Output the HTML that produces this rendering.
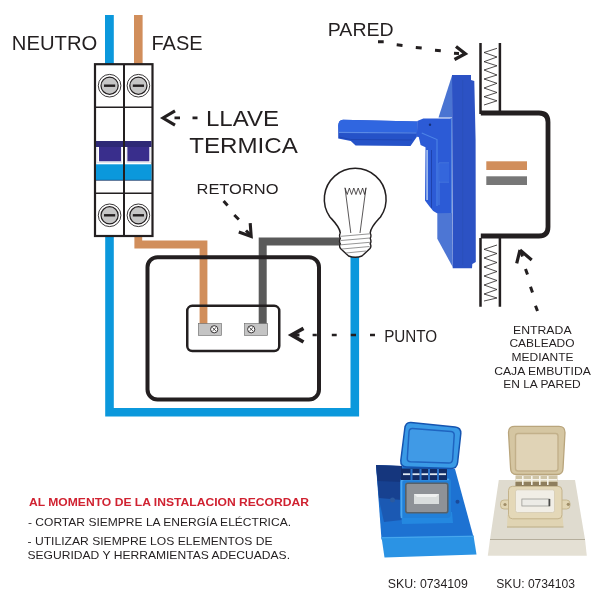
<!DOCTYPE html>
<html><head><meta charset="utf-8">
<style>
html,body{margin:0;padding:0;background:#fff;width:600px;height:600px;overflow:hidden}
svg{display:block;will-change:transform}
text{font-family:"Liberation Sans",sans-serif;fill:#231f20}
</style></head>
<body>
<svg width="600" height="600" viewBox="0 0 600 600">
<defs>


</defs>
<rect width="600" height="600" fill="#fff"/>

<!-- ===== labels ===== -->
<text x="11.8" y="49.5" font-size="20.3" textLength="85.5" lengthAdjust="spacingAndGlyphs">NEUTRO</text>
<text x="151.5" y="49.5" font-size="20">FASE</text>
<text x="327.8" y="35.7" font-size="18.6" textLength="65.8" lengthAdjust="spacingAndGlyphs">PARED</text>

<!-- ===== wires top ===== -->
<rect x="105" y="15" width="8.8" height="49" fill="#0b98dc"/>
<rect x="134" y="15" width="8.6" height="49" fill="#d18e5b"/>

<!-- ===== bottom wires ===== -->
<path d="M109.5 236 V412.2 H354.8 V256" fill="none" stroke="#0b98dc" stroke-width="8.6" stroke-linejoin="miter"/>
<path d="M138.3 236 V244.5 H203.5 V324" fill="none" stroke="#d18e5b" stroke-width="7.8"/>
<path d="M262.7 324 V241.5 H341" fill="none" stroke="#5a5a5a" stroke-width="8"/>

<!-- ===== breaker ===== -->
<g>
<rect x="95" y="64.2" width="57.5" height="171.8" fill="#fff" stroke="#231f20" stroke-width="2.2"/>
<rect x="96" y="141" width="55.5" height="6" fill="#2e2976"/>
<rect x="99" y="147" width="22" height="14.3" fill="#392e8c"/>
<rect x="127.3" y="147" width="22" height="14.3" fill="#392e8c"/>
<rect x="96" y="164.3" width="55.5" height="15.8" fill="#0b98dc"/>
<line x1="96" y1="180.3" x2="151.5" y2="180.3" stroke="#1b3a6a" stroke-width="0.8"/>
<g fill="none" stroke="#c8c8d6" stroke-width="0.5">
<path d="M97 147.5 V162.5 H121.5 V147.5 M126.8 147.5 V162.5 H151 V147.5"/>
</g>
<line x1="95" y1="107.2" x2="152.5" y2="107.2" stroke="#231f20" stroke-width="1.6"/>
<line x1="95" y1="193.2" x2="152.5" y2="193.2" stroke="#231f20" stroke-width="1.6"/>
<line x1="124" y1="64.2" x2="124" y2="236" stroke="#231f20" stroke-width="2"/>
<g transform="translate(109.6 85.7)">
<circle cx="0" cy="0" r="11.3" fill="#fff" stroke="#231f20" stroke-width="0.9"/>
<circle cx="0" cy="0" r="8.6" fill="#c6c6c6" stroke="#231f20" stroke-width="1.2"/>
<rect x="-5.6" y="-1.2" width="11.2" height="2.4" fill="#231f20"/>
</g>
<g transform="translate(138.4 85.7)">
<circle cx="0" cy="0" r="11.3" fill="#fff" stroke="#231f20" stroke-width="0.9"/>
<circle cx="0" cy="0" r="8.6" fill="#c6c6c6" stroke="#231f20" stroke-width="1.2"/>
<rect x="-5.6" y="-1.2" width="11.2" height="2.4" fill="#231f20"/>
</g>
<g transform="translate(109.6 215.3)">
<circle cx="0" cy="0" r="11.3" fill="#fff" stroke="#231f20" stroke-width="0.9"/>
<circle cx="0" cy="0" r="8.6" fill="#c6c6c6" stroke="#231f20" stroke-width="1.2"/>
<rect x="-5.6" y="-1.2" width="11.2" height="2.4" fill="#231f20"/>
</g>
<g transform="translate(138.4 215.3)">
<circle cx="0" cy="0" r="11.3" fill="#fff" stroke="#231f20" stroke-width="0.9"/>
<circle cx="0" cy="0" r="8.6" fill="#c6c6c6" stroke="#231f20" stroke-width="1.2"/>
<rect x="-5.6" y="-1.2" width="11.2" height="2.4" fill="#231f20"/>
</g>
</g>

<!-- ===== switch plate ===== -->
<rect x="147.5" y="257.2" width="171.5" height="142.3" rx="10" fill="none" stroke="#231f20" stroke-width="4"/>
<rect x="187.25" y="305.8" width="92" height="45.3" rx="5" fill="none" stroke="#231f20" stroke-width="2.5"/>
<rect x="198.3" y="323.5" width="23.3" height="12" fill="#c4c4c4" stroke="#6a6a6a" stroke-width="0.6"/>
<rect x="244.4" y="323.5" width="23.3" height="12" fill="#c4c4c4" stroke="#6a6a6a" stroke-width="0.6"/>
<g fill="#fff" stroke="#231f20" stroke-width="0.9">
<circle cx="214.2" cy="329.3" r="3.6"/>
<circle cx="251.2" cy="329.3" r="3.6"/>
</g>
<g stroke="#231f20" stroke-width="0.8">
<path d="M212.4 327.5 L216 331.1 M216 327.5 L212.4 331.1"/>
<path d="M249.4 327.5 L253 331.1 M253 327.5 L249.4 331.1"/>
</g>

<!-- ===== bulb ===== -->
<g fill="#fff" stroke="#231f20">
<path d="M340.3 233 C339.8 227 335 222.5 329.9 217 A30.9 30.9 0 1 1 380.5 217 C375.5 222.5 370.7 227 370.2 233" stroke-width="1.5"/>
<path d="M340.3 233 Q338.8 235.8 340.3 238.5 Q338.8 241.2 340.3 243.8 Q338.8 246.3 340.5 248.5 L348.5 256 Q355.3 258.5 362 256 L370 248.5 Q371.7 246.3 370.2 243.8 Q371.7 241.2 370.2 238.5 Q371.7 235.8 370.2 233" stroke-width="1.4"/>
</g>
<g fill="none" stroke="#231f20" stroke-width="0.75">
<path d="M345 187.8 L347.2 194.5 L349.4 188 L351.6 194.5 L353.8 188 L356 194.5 L358.2 188 L360.4 194.5 L362.6 188 L364.6 194.5 L366 187.8"/>
<path d="M345 187.8 L350.8 233 M366 187.8 L360 233"/>
</g>
<g fill="none" stroke="#8a8a8a" stroke-width="0.9">
<path d="M341 236.3 L370 233.8 M341 240.5 L370 238 M341 244.8 L370 242.3 M342 249 L369.5 246.5 M346 253 L366 251"/>
</g>

<!-- ===== arrows ===== -->
<g stroke="#231f20" fill="none" stroke-linecap="butt">
<!-- llave termica -->
<path d="M175 110.8 L163 118 L175 125.2" stroke-width="3.1"/>
<path d="M174.5 117.9 H180 M192.5 117.9 H197.5" stroke-width="2.6"/>
<!-- retorno -->
<path d="M223.6 201 L227.6 205.5 M234.3 215 L238.8 219.5" stroke-width="3"/>
<path d="M250.2 223.2 L251.2 236.5 L238.8 232" stroke-width="3.1"/>
<path d="M246 230.5 L250 234.5" stroke-width="3"/>
<!-- punto -->
<path d="M303.5 328.3 L291.5 335 L303.5 342" stroke-width="3.7"/>
<path d="M294 335 H299.5" stroke-width="3"/>
<path d="M312.6 335 H316.8 M331.8 335 H336.7 M350.8 335 H356 M370 335 H375" stroke-width="2.6"/>
<!-- pared -->
<path d="M378 41.7 H383.7 M396.7 44.8 L402.5 45.4 M415.8 47.5 L421.7 48 M435 50.2 L440.8 50.7" stroke-width="3"/>
<path d="M456 46.5 L465.3 53.8 L454.5 59.5" stroke-width="3.3"/>
<path d="M454 53.3 L459 53.6" stroke-width="3"/>
<!-- entrada -->
<path d="M520 250 L516.7 263.3 M520 250 L531.7 260" stroke-width="3.2"/>
<path d="M520.5 251 L522.5 256.5" stroke-width="3"/>
<path d="M525.5 269 L527.5 274.5 M530.5 286.7 L532.5 292.5 M535.5 305.8 L537.5 311" stroke-width="3"/>
</g>

<!-- ===== labels 2 ===== -->
<text x="206" y="126.2" font-size="22" textLength="73" lengthAdjust="spacingAndGlyphs">LLAVE</text>
<text x="189.3" y="153" font-size="21.8" textLength="108.5" lengthAdjust="spacingAndGlyphs">TERMICA</text>
<text x="196.5" y="194" font-size="15.4" textLength="82" lengthAdjust="spacingAndGlyphs">RETORNO</text>
<text x="384.2" y="341.7" font-size="15.6" textLength="53" lengthAdjust="spacingAndGlyphs">PUNTO</text>
<g font-size="11" text-anchor="middle">
<text x="542.3" y="334" textLength="58.5" lengthAdjust="spacingAndGlyphs">ENTRADA</text>
<text x="542" y="347.4" textLength="65" lengthAdjust="spacingAndGlyphs">CABLEADO</text>
<text x="542.5" y="361" textLength="62" lengthAdjust="spacingAndGlyphs">MEDIANTE</text>
<text x="542.5" y="374.6" textLength="96.5" lengthAdjust="spacingAndGlyphs">CAJA EMBUTIDA</text>
<text x="542" y="388" textLength="77.5" lengthAdjust="spacingAndGlyphs">EN LA PARED</text>
</g>
<text x="29" y="505.5" font-size="11.2" font-weight="bold" textLength="280" lengthAdjust="spacingAndGlyphs" style="fill:#d02231">AL MOMENTO DE LA INSTALACION RECORDAR</text>
<g font-size="11.5" style="fill:#333">
<text x="28" y="525.8" textLength="263" lengthAdjust="spacingAndGlyphs">- CORTAR SIEMPRE LA ENERGÍA ELÉCTRICA.</text>
<text x="27.5" y="545" textLength="245" lengthAdjust="spacingAndGlyphs">- UTILIZAR SIEMPRE LOS ELEMENTOS DE</text>
<text x="27.5" y="558.5" textLength="262.5" lengthAdjust="spacingAndGlyphs">SEGURIDAD Y HERRAMIENTAS ADECUADAS.</text>
</g>
<g font-size="13.5" style="fill:#3a3a3a">
<text x="387.8" y="587.7" textLength="80" lengthAdjust="spacingAndGlyphs">SKU: 0734109</text>
<text x="496.3" y="587.7" textLength="78.7" lengthAdjust="spacingAndGlyphs">SKU: 0734103</text>
</g>


<!-- ===== blue socket side view ===== -->
<g id="socket">
<!-- plate side faces -->
<polygon points="452.2,75 438.5,117.5 452,117.5" fill="#4a74d2"/>
<polygon points="437.3,212 452,212 452.7,267 437.3,238.7" fill="#4d76d4"/>
<!-- plate front -->
<polygon points="452,75 471,75 471,80 474.3,81 475.6,140 475.8,262 472.3,264 472,268.3 452.7,268.3" fill="#2c52c4"/>
<rect x="450.6" y="118" width="1.4" height="95" fill="#5688e0"/>
<rect x="462" y="80" width="1.2" height="185" fill="#2a50b8" opacity="0.6"/>
<!-- mechanism -->
<polygon points="423.3,118.4 451,118.4 451,213 437,213.3 433.2,211 429.5,206.5 425,200.5 425.5,147.3 420.6,145 418.75,137.1 416.9,136.8 417.3,121" fill="#2c5bd6"/>
<rect x="426.3" y="150" width="1.6" height="50" fill="#a8c2f0"/>
<path d="M421.75 133 L437 139.5 L437 206" fill="none" stroke="#4d84e6" stroke-width="1.1"/>
<path d="M439 163 V205 M439 163 H449 M439 182 H449" fill="none" stroke="#4a7fe0" stroke-width="1"/>
<path d="M431.5 150 V208" fill="none" stroke="#1d40a8" stroke-width="0.9"/>
<rect x="439.5" y="163.5" width="9.5" height="18" fill="#3466dc"/>
<circle cx="430" cy="124.8" r="1.2" fill="#15307a"/>
<!-- lid -->
<path d="M343 119.8 L417.3 121.4 L416.9 136.8 L410.5 146.1 L355.6 145.6 L350.8 140.9 L338.2 138.5 L338.2 125.8 Q338.5 120 343 119.8 Z" fill="#2552c8"/>
<path d="M343 119.8 L417.3 121.4 L417 132.5 L339 131.8 L338.2 125.8 Q338.5 120 343 119.8 Z" fill="#3066e0"/>
<path d="M339 132.3 L416.5 133" fill="none" stroke="#5a8ae6" stroke-width="1.2"/>
<path d="M339 137 L350.8 139.5 L412 140" fill="none" stroke="#1f46b4" stroke-width="1"/>

</g>

<!-- ===== wall + box ===== -->
<g stroke="#231f20" fill="none">
<path d="M480.5 43 V114 M499.9 43 V111" stroke-width="2.5"/>
<path d="M480.5 238 V306.7 M499.9 238 V306.7" stroke-width="2.5"/>
<path d="M480.8 113 H539 Q548 113 548 122 V227 Q548 236 539 236 H480.8" stroke-width="4.8"/>
<path d="M497 48.3 L484 52.5 L497 57 L484 61.7 L497 65.8 L484 70 L497 75 L484 79 L497 83.3 L484 88 L497 92.5 L484 96.7 L497 100.8 L484 105" stroke-width="0.8"/>
<path d="M497 245 L484 249.3 L497 253.5 L484 258 L497 262.5 L484 267 L497 271.5 L484 276 L497 280.5 L484 285 L497 289.5 L484 294 L497 298 L484 301" stroke-width="0.8"/>
</g>
<rect x="486.3" y="161.3" width="40.7" height="8.7" fill="#d18e5b"/>
<rect x="486.3" y="176.3" width="40.7" height="8.7" fill="#777"/>

<!-- ===== blue product ===== -->
<g id="prodBlue">
<!-- base top face -->
<polygon points="376,465 455,469 473.5,537 381.5,539.5" fill="#1d72d2"/>
<!-- shadow left -->
<polygon points="376,465 402,466 402,520 384,522 379,500" fill="#1b52a8" opacity="0.75"/>
<polygon points="376,465 402,466 402,500 379,498" fill="#163882" opacity="0.7"/>
<polygon points="376,465 402,466 402,482 377.5,481" fill="#142f72" opacity="0.6"/>
<!-- front band -->
<polygon points="381.5,537 473.5,535.5 476.5,554.5 384.5,557.5" fill="#2b93e4"/>
<line x1="381.5" y1="537.8" x2="473.5" y2="536.3" stroke="#4aa8ee" stroke-width="1"/>
<!-- frame lower lip -->
<path d="M401 512 L452 512 L453 523 L402 524 Z" fill="#2488e0"/>
<!-- frame -->
<rect x="400" y="478" width="51" height="40" rx="4" fill="#2280d8"/>
<path d="M401.5 518 V482 Q401.5 479.5 404 479.5 H449" fill="none" stroke="#4aa6f0" stroke-width="1.6"/>
<rect x="405.8" y="483.3" width="42" height="29.4" rx="2" fill="#8e9297" stroke="#566068" stroke-width="1.6"/>
<rect x="414" y="494" width="25" height="10" fill="#d9dddd"/>
<polygon points="414,494 439,494 436,497 417,497" fill="#eef0f0"/>
<circle cx="457.5" cy="501.7" r="2" fill="#1a4a9a"/>
<circle cx="392.5" cy="500" r="2.5" fill="#2a5aa0"/>
<!-- hinge slots -->
<rect x="401" y="468.5" width="46" height="11.5" fill="#122c66"/>
<g fill="#2a74cc"><rect x="410.5" y="469" width="2" height="11"/><rect x="419.5" y="469" width="2" height="11"/><rect x="428" y="469" width="2" height="11"/><rect x="437" y="469" width="2" height="11"/></g>
<g fill="#dfe8f2">
<rect x="403" y="473.3" width="7" height="1.8"/><rect x="412.5" y="473.3" width="7" height="1.8"/><rect x="421.5" y="473.3" width="6.5" height="1.8"/><rect x="430" y="473.3" width="7" height="1.8"/><rect x="439" y="473.3" width="7" height="1.8"/>
</g>
<!-- lid -->
<path d="M411 422.5 L455 427 Q461 427.5 460.8 433.5 L457.6 462.5 Q457 468.5 451 468.5 L406.5 467 Q400.5 466.7 400.8 460.5 L404.8 428.5 Q405.5 422 411 422.5 Z" fill="#3a9ae6"/>
<path d="M411 422.5 L455 427 Q461 427.5 460.8 433.5 L457.6 462.5 Q457 468.5 451 468.5 L406.5 467 Q400.5 466.7 400.8 460.5 L404.8 428.5 Q405.5 422 411 422.5 Z" fill="none" stroke="#1554b0" stroke-width="1.5"/>
<path d="M412.5 428.5 L451 431.5 Q454.5 432 454.2 435.5 L452.6 459.5 Q452.3 463 448.8 463 L410.5 461.8 Q407 461.6 407.3 458.2 L409 432 Q409.3 428.4 412.5 428.5 Z" fill="#409ae6" stroke="#1f64c0" stroke-width="1.5"/>
</g>

<!-- ===== beige product ===== -->
<g id="prodBeige">
<polygon points="498.8,480 575,480 585,539.5 490,539.5" fill="#dfdbcf"/>
<polygon points="490,539.2 585,539.2 586.8,555.7 487.8,555.7" fill="#e4e0d4"/>
<line x1="490" y1="539.5" x2="585" y2="539.5" stroke="#b5ae9c" stroke-width="1"/>
<!-- frame lip -->
<path d="M507.5 515 L562.5 515 L563.5 527 L507 527.5 Z" fill="#e0d4b3"/>
<line x1="507" y1="527" x2="563.5" y2="527" stroke="#bcae88" stroke-width="1"/>
<!-- ears -->
<rect x="500.5" y="500" width="12" height="9" rx="3.5" fill="#e2d6b4" stroke="#bfae84" stroke-width="0.8"/>
<rect x="558" y="500" width="12" height="9" rx="3.5" fill="#e2d6b4" stroke="#bfae84" stroke-width="0.8"/>
<circle cx="505" cy="504.5" r="1.6" fill="#a08e68"/>
<circle cx="568.3" cy="504.3" r="1.6" fill="#a08e68"/>
<!-- frame -->
<rect x="508.5" y="486.3" width="53.5" height="32.5" rx="4" fill="#e4d8b8" stroke="#c4b38b" stroke-width="1"/>
<rect x="515.5" y="489.8" width="39" height="22.7" rx="2" fill="#f1eee6" stroke="#d6ccb2" stroke-width="0.8"/>
<rect x="521.9" y="499" width="27.6" height="7" fill="#ecebe6" stroke="#8e8e88" stroke-width="0.7"/>
<rect x="548.5" y="499" width="1.8" height="7.2" fill="#4a4a48"/>
<!-- hinge slots -->
<rect x="515.5" y="475.5" width="42" height="10.5" fill="#cfc4a6"/>
<rect x="515.5" y="482" width="42" height="4" fill="#8f7f5e"/>
<g fill="#f6f3ea">
<rect x="522" y="476" width="1.6" height="9"/><rect x="531" y="476" width="1.6" height="9"/><rect x="539" y="476" width="1.6" height="9"/><rect x="547" y="476" width="1.6" height="9"/>
<rect x="516" y="479" width="41" height="1.5"/>
</g>
<!-- lid -->
<path d="M514.5 426.4 L559 426.4 Q565 426.4 565 432.4 L563 468.5 Q563 474.5 557 474.5 L516.6 474.5 Q510.6 474.5 510.6 468.5 L508.5 432.4 Q508.5 426.4 514.5 426.4 Z" fill="#d5c6a2" stroke="#b9a57c" stroke-width="1.3"/>
<rect x="515.5" y="433.5" width="42.5" height="37.5" rx="2.5" fill="#e0d3b6" stroke="#c2b08a" stroke-width="1.4"/>
</g>
</svg>
</body></html>
